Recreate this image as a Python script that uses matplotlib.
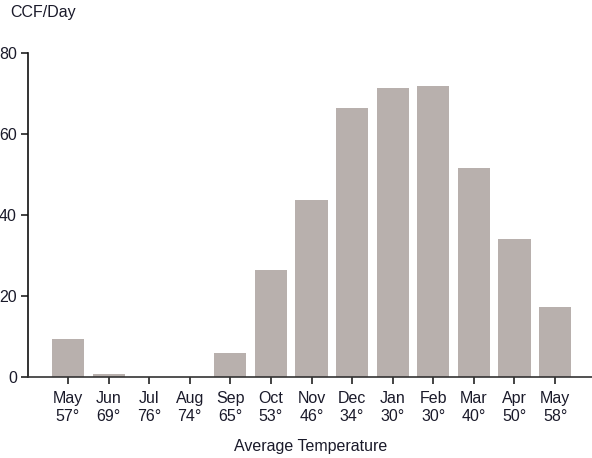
import matplotlib
matplotlib.use("Agg")
import matplotlib.pyplot as plt

months = ["May", "Jun", "Jul", "Aug", "Sep", "Oct", "Nov", "Dec", "Jan", "Feb", "Mar", "Apr", "May"]
temps = [57, 69, 76, 74, 65, 53, 46, 34, 30, 30, 40, 50, 58]
ccf_per_day = [9.4, 0.8, 0, 0, 5.9, 26.4, 43.7, 66.4, 71.4, 71.9, 51.6, 34.1, 17.3]
y_ticks = [0, 20, 40, 60, 80]

plt.rcParams["font.family"] = ["Liberation Sans Narrow", "Liberation Sans", "DejaVu Sans"]

fig = plt.figure(figsize=(5.92, 4.58), dpi=100)
ax = fig.add_axes([28 / 592, 1 - 377 / 458, 1 - 28 / 592, (377 - 53) / 458])

x = list(range(len(months)))
ax.bar(x, ccf_per_day, width=0.79, color="#b8b0ad", zorder=2)

ax.set_xlim(-0.985, 12.91)
ax.set_ylim(0, 80)
ax.set_yticks(y_ticks)
ax.set_xticks(x)
ax.set_xticklabels([f"{m}\n{t}°" for m, t in zip(months, temps)])

for s in ["top", "right"]:
    ax.spines[s].set_visible(False)
ax.spines["left"].set_color("#111111")
ax.spines["left"].set_linewidth(1.2)
ax.spines["bottom"].set_color("#333333")
ax.spines["bottom"].set_linewidth(1.2)
ax.tick_params(axis="both", length=5, width=1.2, color="#222222",
               labelsize=11.5, labelcolor="#1a1a2a")
ax.tick_params(axis="x", pad=5)
ax.tick_params(axis="y", pad=3)
for lbl in ax.get_xticklabels():
    lbl.set_linespacing(1.3)

fig.text(10 / 592, 1 - 13 / 458, "CCF/Day", fontsize=11.5, color="#1a1a2a",
         ha="left", va="center")
fig.text(311 / 592, 1 - 446 / 458, "Average Temperature", fontsize=11.5,
         color="#1a1a2a", ha="center", va="center")

fig.savefig("out.png", dpi=100)
